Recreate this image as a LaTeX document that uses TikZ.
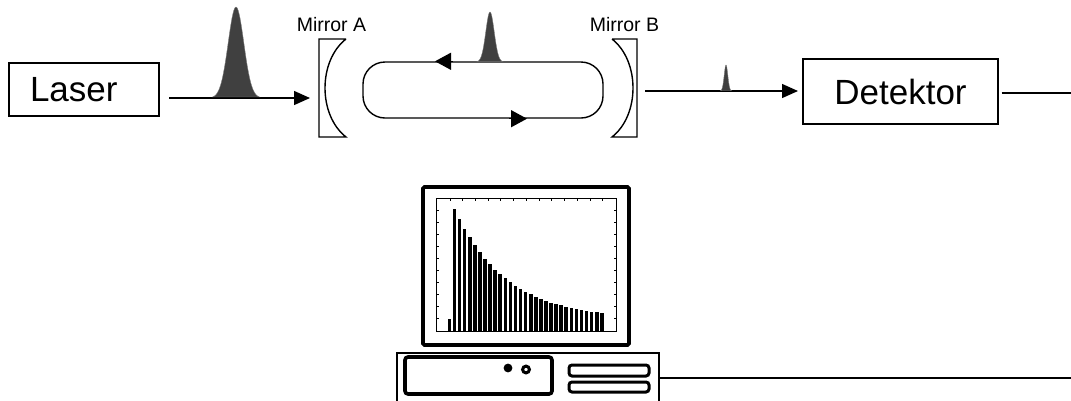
\documentclass[tikz,border=0pt]{standalone}
\usepackage{fontspec}
\setmainfont{Liberation Sans}
\usetikzlibrary{arrows.meta}
\definecolor{pulsegray}{HTML}{404040}
\begin{document}
\begin{tikzpicture}[x=1pt,y=-1pt,
  line join=miter,
  thinline/.style={line width=1.4pt},
  blockbox/.style={draw,thinline,rectangle,inner sep=0pt},
  bigtext/.style={font=\fontsize{35}{40}\selectfont},
  smalltext/.style={font=\fontsize{19.5}{22}\selectfont},
  flow/.style={thinline,-{Triangle[length=16pt,width=14pt]}},
  looptip/.style={thinline,-{Triangle[length=16pt,width=17pt]}},
  thickframe/.style={line width=3.6pt,rounded corners=1.5pt},
  slot/.style={line width=3pt,rounded corners=3pt},
  pulse/.style={fill=pulsegray,draw=pulsegray!70,line width=0.4pt}]
\clip (0,0) rectangle (1071,400);

% ---- source and detector blocks
\node[blockbox,bigtext,minimum height=53pt,text width=108pt,align=left,inner xsep=21pt] (laser) at (84,89.5) {Laser};
\node[blockbox,bigtext,minimum width=195pt,minimum height=65pt] (det) at (900.5,91.5) {Detektor};

% ---- cavity mirrors
\draw[thinline] (346,39) -- (319,39) -- (319,137) -- (346,137)
  .. controls (318,115) and (318,61) .. (346,39);
\draw[thinline] (612,39) -- (637,39) -- (637,137) -- (612,137)
  .. controls (640,115) and (640,61) .. (612,39);
\node[smalltext,anchor=base] (labA) at (331.5,31) {Mirror A};
\node[smalltext,anchor=base] (labB) at (624.5,31) {Mirror B};

% ---- circulating light inside the cavity
\node[draw,thinline,rectangle,rounded corners=22pt,minimum width=240pt,minimum height=56pt,inner sep=0pt] (cav) at (483,90) {};
\coordinate (topA) at ([xshift=-30pt]cav.north);
\coordinate (topB) at ([xshift=-48pt]cav.north);
\coordinate (botA) at ([xshift=26pt]cav.south);
\coordinate (botB) at ([xshift=44pt]cav.south);
\draw[looptip] (topA) -- (topB);
\draw[looptip] (botA) -- (botB);

% ---- beam paths
\coordinate (beamin) at (169,98);
\coordinate (mirAin) at (310,98);
\coordinate (mirBout) at (645,91);
\coordinate (detin) at (798,91);
\draw[flow] (beamin) -- (mirAin);
\draw[flow] (mirBout) -- (detin);

% ---- light pulses (Gaussian profiles)
\fill[pulse] plot[domain=-3:3,samples=61,smooth] ({236+7.8*\x},{98-91*exp(-\x*\x/2)}) -- cycle;
\fill[pulse] plot[domain=-3:3,samples=61,smooth] ({490+4.2*\x},{62-50*exp(-\x*\x/2)}) -- cycle;
\fill[pulse] plot[domain=-3:3,samples=61,smooth] ({726+1.8*\x},{91-26*exp(-\x*\x/2)}) -- cycle;

% ---- signal cable
\coordinate (cableA) at (1071,93);
\draw[thinline] (det.east |- cableA) ++(3,0) -- (cableA);

% ---- computer: monitor
\draw[thickframe] (423,187) rectangle (629,345);
\draw[line width=0.8pt] (436,198) rectangle (616,331);
\foreach \k in {0,...,12} {
  \draw[line width=0.8pt] ({450+12.72*\k},198) -- ++(0,2.5);
}
\foreach \k in {0,...,9} {
  \draw[line width=0.8pt] (436,{210+12.07*\k}) -- ++(2.5,0);
  \draw[line width=0.8pt] (616,{210+12.07*\k}) -- ++(-2.5,0);
}
% decay histogram
\fill (447.8,319) rectangle (451.4,331);
\foreach \i in {0,...,29} {
  \pgfmathsetmacro{\bx}{452.7+5.08*\i}
  \pgfmathsetmacro{\bh}{12+110*0.905^\i}
  \fill (\bx,331) rectangle ({\bx+3.6},{331-\bh});
}

% ---- computer: base unit
\node[draw,line width=1.6pt,rectangle,minimum width=262pt,minimum height=60pt,inner sep=0pt,anchor=north west] (pc) at (396,352) {};
\draw[thickframe,rounded corners=3pt] (405,357) rectangle (552,394);
\fill (508,368) circle (4.4pt);
\draw[line width=3pt] (526,369.5) circle (3.4pt);
\draw[slot] (569,365) rectangle (649,376);
\draw[slot] (569,382) rectangle (649,392);
\coordinate (cableB) at (1071,378);
\draw[thinline] (pc.east |- cableB) -- (cableB);
\end{tikzpicture}
\end{document}
